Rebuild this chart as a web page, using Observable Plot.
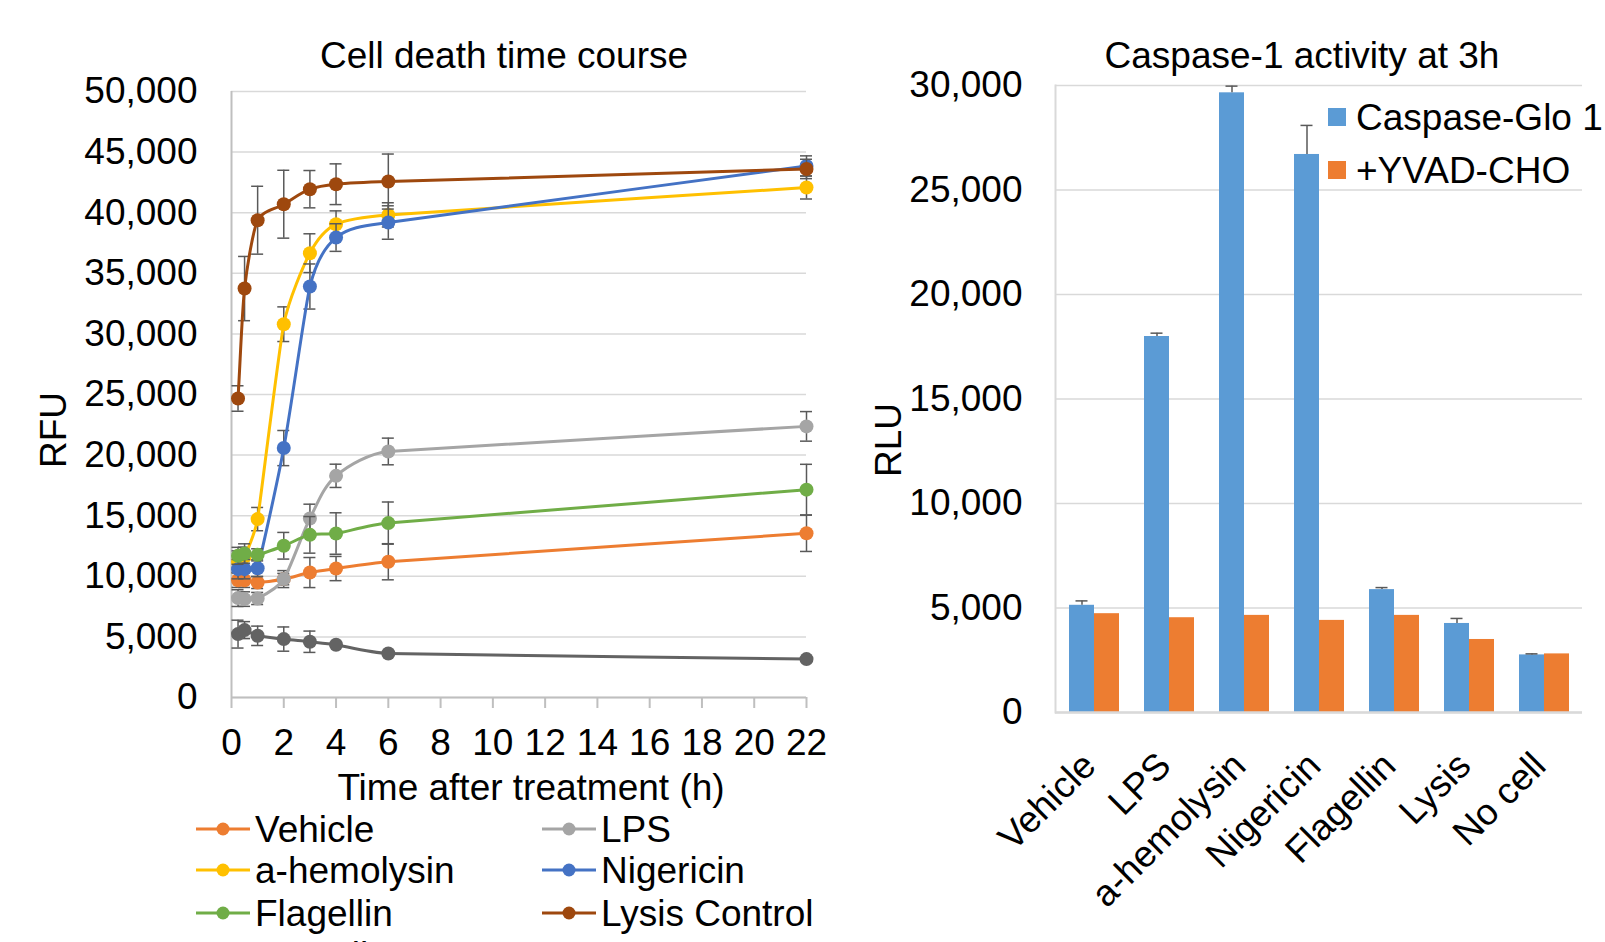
<!DOCTYPE html>
<html><head><meta charset="utf-8">
<script src="https://cdn.jsdelivr.net/npm/d3@7"></script>
<script src="https://cdn.jsdelivr.net/npm/@observablehq/plot@0.6"></script>
<style>
html,body{margin:0;padding:0;background:#fff;overflow:hidden;width:1605px;height:942px;}
body{position:relative;font-family:"Liberation Sans",Arial,sans-serif;color:#000;}
.abs{position:absolute;white-space:nowrap;line-height:1;font-size:37px;}
svg.plot{position:absolute;overflow:visible;}
</style></head><body>
<script>
// ---------- Left chart data ----------
const times = [0.25, 0.5, 1, 2, 3, 4, 6, 22];
const seriesNames = ["Vehicle", "LPS", "a-hemolysin", "Nigericin", "Flagellin", "Lysis Control", "No cell"];
const seriesColors = ["#ED7D31", "#A5A5A5", "#FFC000", "#4472C4", "#70AD47", "#9E480E", "#636363"];
const vehicle      = [9680, 9680, 9490, 9770, 10310, 10640, 11200, 13550];
const vehicleErr   = [600, 600, 500, 700, 1240, 1000, 1490, 1500];
const lps          = [8200, 8120, 8170, 9770, 14770, 18290, 20300, 22370];
const lpsErr       = [690, 600, 500, 470, 1180, 960, 1100, 1220];
const aHemolysin   = [11200, 11600, 14720, 30800, 36660, 39050, 39820, 42080];
const aHemolysinErr= [900, 800, 960, 1430, 1600, 1100, 1000, 950];
const nigericin    = [10590, 10590, 10670, 20580, 33910, 37950, 39190, 43860];
const nigericinErr = [800, 800, 700, 1450, 1860, 1140, 1380, 830];
const flagellin    = [11690, 11880, 11770, 12520, 13420, 13530, 14390, 17150];
const flagellinErr = [700, 800, 500, 1100, 1510, 1710, 1740, 2090];
const lysisControl = [24670, 33740, 39380, 40700, 41940, 42350, 42570, 43610];
const lysisControlErr = [1050, 2650, 2800, 2800, 1540, 1680, 2270, 800];
const noCell       = [5230, 5560, 5090, 4820, 4600, 4350, 3630, 3170];
const noCellErr    = [1150, 700, 800, 1000, 880, 0, 0, 0];
const seriesValues = [vehicle, lps, aHemolysin, nigericin, flagellin, lysisControl, noCell];
const seriesErrors = [vehicleErr, lpsErr, aHemolysinErr, nigericinErr, flagellinErr, lysisControlErr, noCellErr];
const xTicksLeft = [0, 2, 4, 6, 8, 10, 12, 14, 16, 18, 20, 22];
const yTicksLeft = [0, 5000, 10000, 15000, 20000, 25000, 30000, 35000, 40000, 45000, 50000];
const xDomainLeft = [0, 22];
const yDomainLeft = [0, 50000];

// ---------- Right chart data ----------
const categories = ["Vehicle", "LPS", "a-hemolysin", "Nigericin", "Flagellin", "Lysis", "No cell"];
const barSeries = ["Caspase-Glo 1", "+YVAD-CHO"];
const barColors = ["#5B9BD5", "#ED7D31"];
const caspaseGlo = [5130, 17990, 29650, 26700, 5880, 4260, 2756];
const caspaseGloErr = [210, 160, 320, 1390, 97, 240, 50];
const yvad = [4728, 4535, 4647, 4407, 4647, 3494, 2804];
const yTicksRight = [0, 5000, 10000, 15000, 20000, 25000, 30000];
const yDomainRight = [0, 30000];

const fmt = d3.format(",");
const font = "'Liberation Sans', Arial, sans-serif";
const errColor = "#595959";

// Smoothed curve in the style of spreadsheet "smoothed lines":
// tangent from neighbours, handle length limited by the shorter adjacent segment.
function SmoothCurve(context) { this._context = context; }
SmoothCurve.prototype = {
  areaStart() { this._line = 0; },
  areaEnd() { this._line = NaN; },
  lineStart() { this._x = []; this._y = []; },
  point(x, y) { this._x.push(+x); this._y.push(+y); },
  lineEnd() {
    const X = this._x, Y = this._y, n = X.length, c = this._context;
    if (!n) return;
    if (this._line) c.lineTo(X[0], Y[0]); else c.moveTo(X[0], Y[0]);
    const dist = (i, j) => Math.hypot(X[j] - X[i], Y[j] - Y[i]);
    const tan = (i) => {
      const a = Math.max(0, i - 1), b = Math.min(n - 1, i + 1);
      const tx = X[b] - X[a], ty = Y[b] - Y[a], L = Math.hypot(tx, ty) || 1;
      return [tx / L, ty / L];
    };
    for (let i = 0; i < n - 1; i++) {
      const dSeg = dist(i, i + 1);
      const hA = Math.min(dSeg, i > 0 ? dist(i - 1, i) : dSeg) / 3;
      const hB = Math.min(dSeg, i + 2 < n ? dist(i + 1, i + 2) : dSeg) / 3;
      const tA = tan(i), tB = tan(i + 1);
      c.bezierCurveTo(X[i] + tA[0] * hA, Y[i] + tA[1] * hA,
                      X[i + 1] - tB[0] * hB, Y[i + 1] - tB[1] * hB,
                      X[i + 1], Y[i + 1]);
    }
    if (this._line || (this._line !== 0 && n === 1)) c.closePath();
    this._line = 1 - this._line;
  }
};
const smoothCurve = (context) => new SmoothCurve(context);

function addText(txt, x, y, opts = {}) {
  const d = document.createElement("div");
  d.className = "abs";
  d.textContent = txt;
  d.style.left = x + "px";
  d.style.top = y + "px";
  d.style.transform = opts.transform || "translate(-50%,-50%)";
  if (opts.size) d.style.fontSize = opts.size + "px";
  document.body.appendChild(d);
  return d;
}

// ---------- Left chart ----------
const leftMarks = [
  Plot.gridY(yTicksLeft, {stroke: "#d9d9d9", strokeOpacity: 1, strokeWidth: 1.5}),
  Plot.ruleX([xDomainLeft[0]], {stroke: "#bfbfbf", strokeWidth: 2}),
  Plot.ruleY([yDomainLeft[0]], {stroke: "#bfbfbf", strokeWidth: 2}),
  Plot.axisX({ticks: xTicksLeft, tickSize: 11, tickPadding: 20, stroke: "#bfbfbf", strokeWidth: 2, fill: "black", label: null}),
  Plot.axisY({ticks: yTicksLeft, tickSize: 0, tickPadding: 34, tickFormat: fmt, fill: "black", label: null})
];
seriesNames.forEach((name, si) => {
  const rows = times.map((t, i) => ({t, v: seriesValues[si][i], e: seriesErrors[si][i]}));
  const withErr = rows.filter(d => d.e > 0);
  leftMarks.push(
    Plot.ruleX(withErr, {x: "t", y1: d => d.v - d.e, y2: d => d.v + d.e, stroke: errColor, strokeWidth: 1.5}),
    Plot.ruleY(withErr, {x1: "t", x2: "t", y: d => d.v + d.e, insetLeft: -6, insetRight: -6, stroke: errColor, strokeWidth: 1.5}),
    Plot.ruleY(withErr, {x1: "t", x2: "t", y: d => d.v - d.e, insetLeft: -6, insetRight: -6, stroke: errColor, strokeWidth: 1.5}),
    Plot.line(rows, {x: "t", y: "v", stroke: seriesColors[si], strokeWidth: 3, curve: smoothCurve}),
    Plot.dot(rows, {x: "t", y: "v", r: 7, fill: seriesColors[si], stroke: "none"})
  );
});
const left = Plot.plot({
  width: 830, height: 770,
  marginLeft: 231, marginRight: 24, marginTop: 91, marginBottom: 73,
  x: {domain: xDomainLeft, axis: null},
  y: {domain: yDomainLeft, axis: null},
  style: {fontSize: "37px", fontFamily: font, background: "transparent", overflow: "visible"},
  marks: leftMarks
});
left.classList.add("plot");
left.style.left = "0px"; left.style.top = "0px";
document.body.appendChild(left);

addText("Cell death time course", 504, 55);
addText("Time after treatment (h)", 531, 787);
addText("RFU", 53, 430, {transform: "translate(-50%,-50%) rotate(-90deg)"});

// legend (two columns)
const legCols = [196, 542];
const legRowY = [828.5, 870, 913, 955];
seriesNames.forEach((name, si) => {
  const col = si % 2, row = Math.floor(si / 2);
  const x = legCols[col], y = legRowY[row];
  const ns = "http://www.w3.org/2000/svg";
  const s = document.createElementNS(ns, "svg");
  s.setAttribute("width", 56); s.setAttribute("height", 20);
  s.style.position = "absolute"; s.style.left = x + "px"; s.style.top = (y - 10) + "px";
  const ln = document.createElementNS(ns, "line");
  ln.setAttribute("x1", 0); ln.setAttribute("x2", 54); ln.setAttribute("y1", 10); ln.setAttribute("y2", 10);
  ln.setAttribute("stroke", seriesColors[si]); ln.setAttribute("stroke-width", 3);
  const c = document.createElementNS(ns, "circle");
  c.setAttribute("cx", 27); c.setAttribute("cy", 10); c.setAttribute("r", 6.5); c.setAttribute("fill", seriesColors[si]);
  s.appendChild(ln); s.appendChild(c);
  document.body.appendChild(s);
  addText(name, x + 59, y, {transform: "translate(0,-50%)"});
});

// ---------- Right chart ----------
const gloRows = categories.map((c, i) => ({cat: c, v: caspaseGlo[i], e: caspaseGloErr[i]}));
const yvadRows = categories.map((c, i) => ({cat: c, v: yvad[i]}));
const rightCfg = {
  width: 745, height: 942,
  marginLeft: 195, marginRight: 23, marginTop: 85, marginBottom: 230,
  x: {domain: categories, paddingInner: 1/3, paddingOuter: 1/6, axis: null},
  y: {domain: yDomainRight, axis: null},
  style: {fontSize: "37px", fontFamily: font, background: "transparent", overflow: "visible"}
};
const probe = Plot.plot({...rightCfg, marks: [Plot.barY(gloRows, {x: "cat", y: "v"})]});
const bw = probe.scale("x").bandwidth;
const right = Plot.plot({
  ...rightCfg,
  marks: [
    Plot.gridY(yTicksRight, {stroke: "#d9d9d9", strokeOpacity: 1, strokeWidth: 1.5}),
    Plot.axisY({ticks: yTicksRight, tickSize: 0, tickPadding: 33, tickFormat: fmt, fill: "black", label: null}),
    Plot.axisX({tickSize: 0, tickPadding: 47, tickRotate: -45, dx: -5, fill: "black", label: null}),
    Plot.barY(gloRows, {x: "cat", y: "v", fill: barColors[0], insetRight: bw / 2}),
    Plot.barY(yvadRows, {x: "cat", y: "v", fill: barColors[1], insetLeft: bw / 2}),
    Plot.ruleX(gloRows, {x: "cat", y1: "v", y2: d => d.v + d.e, dx: -bw / 4, stroke: errColor, strokeWidth: 1.5}),
    Plot.tickY(gloRows, {x: "cat", y: d => d.v + d.e, insetLeft: bw / 4 - 6, insetRight: 3 * bw / 4 - 6, stroke: errColor, strokeWidth: 1.5}),
    Plot.ruleY([yDomainRight[0]], {stroke: "#d9d9d9", strokeWidth: 2.5}),
    Plot.frame({anchor: "left", stroke: "#d9d9d9", strokeWidth: 2})
  ]
});
right.classList.add("plot");
right.style.left = "860px"; right.style.top = "0px";
document.body.appendChild(right);

addText("Caspase-1 activity at 3h", 1302, 55);
addText("RLU", 888, 440, {transform: "translate(-50%,-50%) rotate(-90deg)"});

// right legend
const rLegY = [116.5, 169.5];
barSeries.forEach((name, i) => {
  const sq = document.createElement("div");
  sq.style.cssText = `position:absolute;left:1328px;top:${rLegY[i] - 9}px;width:18px;height:18px;background:${barColors[i]};`;
  document.body.appendChild(sq);
  addText(name, 1356, rLegY[i], {transform: "translate(0,-50%)"});
});
</script>
</body></html>
